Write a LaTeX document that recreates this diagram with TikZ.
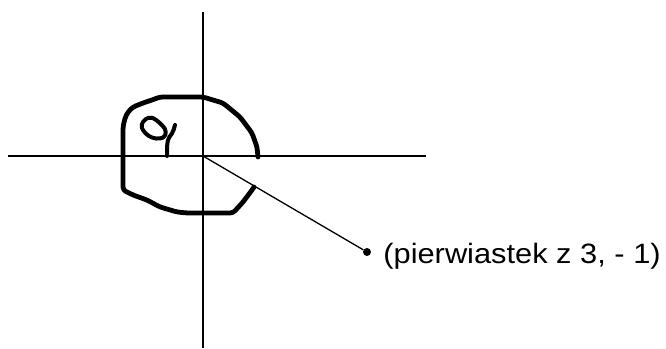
\documentclass[tikz,border=0pt]{standalone}
\usepackage{fontspec}
\newfontfamily\lblfont[FakeStretch=1.1]{Liberation Sans}
\usetikzlibrary{positioning, calc}

\begin{document}
\begin{tikzpicture}[
    x=1pt, y=1pt,
    axis/.style={draw=black, line width=2pt},
    ray/.style={draw=black, line width=1.3pt},
    sketch/.style={draw=black, line width=4.8pt, line join=round, line cap=round, rounded corners=3pt},
    dot/.style={circle, fill=black, inner sep=0pt, minimum size=8pt},
    lbl/.style={font=\lblfont\fontsize{28}{32}\selectfont, inner sep=0pt, text=black},
]
\useasboundingbox (-203,-192) rectangle (463,156);

% ===== Axes =====
\coordinate (o)  at (0,0);
\coordinate (xl) at (-195,0);
\coordinate (xr) at (223,0);
\coordinate (yt) at (0,144);
\coordinate (yb) at (0,-192);
\draw[axis] (xl) -- (xr);
\draw[axis] (yt) -- (yb);

% ===== Point and ray =====
\node[dot] (pt) at (164,-96) {};
\node[lbl, right=12pt of pt, yshift=-4pt] (ptlabel) {(pierwiastek z 3, - 1)};
\draw[ray] (o) -- (pt);

% ===== Hand-drawn angle outline =====
\draw[sketch] (55,-1) -- (54,9) -- (49,23) -- (37,39) -- (20,53) -- (0,59)
    -- (-43,59) -- (-51,56) -- (-60,53) -- (-70,49) -- (-75,44) -- (-78,38)
    -- (-80,29) -- (-80,-34) -- (-70,-39) -- (-56,-44) -- (-43,-51)
    -- (-26,-56) -- (-16,-57) -- (30,-57) -- (40,-46) -- (49,-34) -- (51,-31);

% --- handwritten letter: bowl + stem ---
\draw[sketch, line width=4pt, rounded corners=2pt] (-53,39) -- (-59,36) -- (-62,30) -- (-59,24)
    -- (-53,19) -- (-45,17) -- (-38,19) -- (-37,26) -- (-42,32) -- (-48,37) -- cycle;
\draw[sketch, line width=4pt, rounded corners=2pt] (-28,31) -- (-30,24) -- (-35,17) -- (-36,9) -- (-36,0);

\end{tikzpicture}
\end{document}
